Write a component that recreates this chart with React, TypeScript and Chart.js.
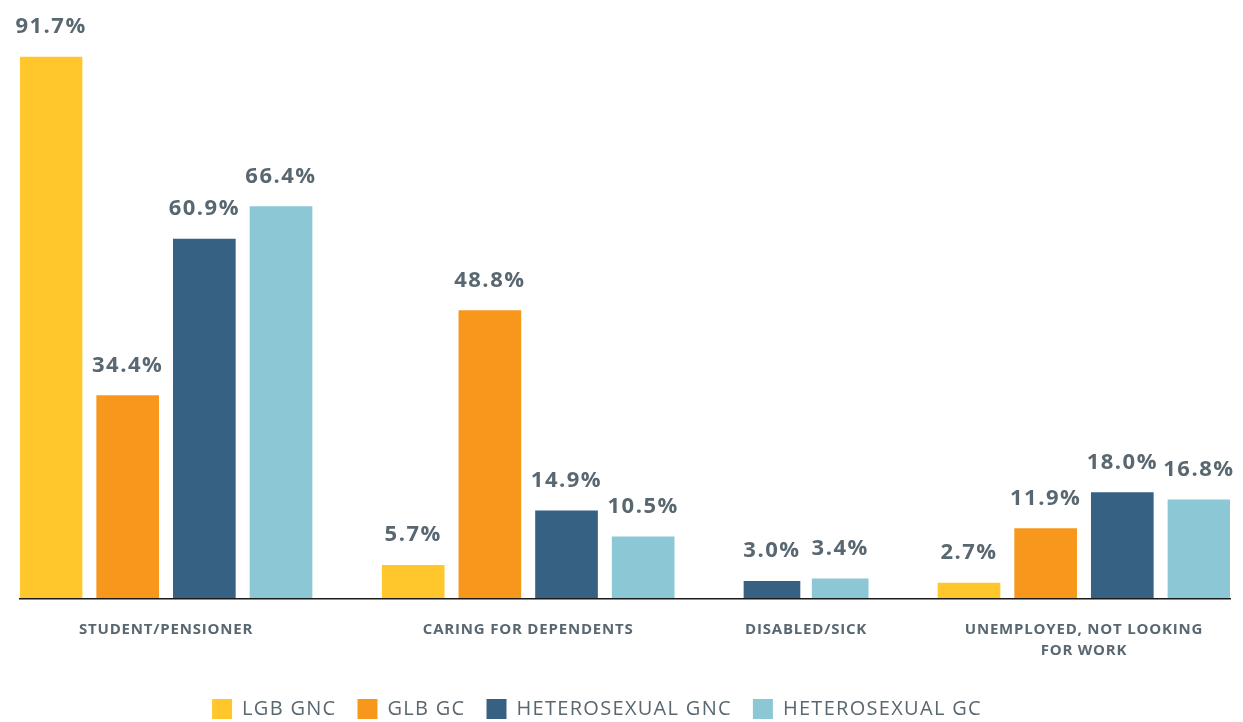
import React, { useEffect, useRef } from "react";
import { Chart, registerables } from "chart.js";

Chart.register(...registerables);

// ---------- data ----------
const categoryLabels: string[][] = [
  ["STUDENT/PENSIONER"],
  ["CARING FOR DEPENDENTS"],
  ["DISABLED/SICK"],
  ["UNEMPLOYED, NOT LOOKING", "FOR WORK"],
];
const seriesNames = ["LGB GNC", "GLB GC", "HETEROSEXUAL GNC", "HETEROSEXUAL GC"];
const lgbGnc: (number | null)[] = [91.7, 5.7, null, 2.7];
const glbGc: (number | null)[] = [34.4, 48.8, null, 11.9];
const heteroGnc: (number | null)[] = [60.9, 14.9, 3.0, 18.0];
const heteroGc: (number | null)[] = [66.4, 10.5, 3.4, 16.8];
const seriesValues = [lgbGnc, glbGc, heteroGnc, heteroGc];

// ---------- styles / layout ----------
const seriesColors = ["#FFC72C", "#F7981D", "#376183", "#8BC7D4"];
const textColor = "#596771";
const groupPitch = [1, 1, 0.89, 1];
const groupBarPx = [62, 62, 56, 62];
const barFrac = 0.81;
const groupGap = 0.915;
const FONT = "'Open Sans', 'Noto Sans', sans-serif";
const LEGEND_SPACING = "1.3px";
const VALUE_SPACING = "1.5px";
const TICK_SPACING = "0.8px";

function buildLayout() {
  const centers: (number | null)[][] = seriesValues.map(() => []);
  const groupCenters: number[] = [];
  let cursor = 0;
  let end = 0;
  for (let g = 0; g < categoryLabels.length; g++) {
    const p = groupPitch[g];
    const half = (barFrac * p) / 2;
    let first: number | null = null;
    let last = cursor;
    let k = 0;
    for (let s = 0; s < seriesValues.length; s++) {
      const v = seriesValues[s][g];
      if (v == null) {
        centers[s][g] = null;
        continue;
      }
      const x = cursor + half + k * p;
      centers[s][g] = x;
      k++;
      if (first === null) first = x;
      last = x;
    }
    groupCenters.push(((first as number) + last) / 2);
    end = last + half;
    cursor = end + groupGap;
  }
  return { centers, groupCenters, end };
}

const setSpacing = (chart: any) => {
  if (chart.ctx) (chart.ctx as any).letterSpacing = LEGEND_SPACING;
};

const letterSpacingPlugin = {
  id: "letterSpacing",
  beforeUpdate: setSpacing,
  beforeLayout: setSpacing,
  beforeDraw: setSpacing,
};

// value labels above bars; afterwards switch spacing for the tick layer (drawn after datasets, z=1)
const valueLabels = {
  id: "valueLabels",
  afterDatasetsDraw(chart: any) {
    const ctx = chart.ctx;
    ctx.save();
    ctx.letterSpacing = VALUE_SPACING;
    ctx.font = `bold 22px ${FONT}`;
    ctx.fillStyle = textColor;
    ctx.textAlign = "center";
    ctx.textBaseline = "alphabetic";
    chart.data.datasets.forEach((ds: any, i: number) => {
      const meta = chart.getDatasetMeta(i);
      meta.data.forEach((el: any, j: number) => {
        const v = ds.data[j].y as number;
        ctx.fillText(v.toFixed(1) + "%", el.x, el.y - 24);
      });
    });
    ctx.restore();
    ctx.letterSpacing = TICK_SPACING;
  },
};

const legendShift = {
  id: "legendShift",
  afterLayout(chart: any) {
    const l = chart.legend;
    if (!l) return;
    l.left -= 28;
    l.right -= 28;
    l.top += 7;
    l.bottom += 7;
  },
};

export default function App() {
  const canvasRef = useRef<HTMLCanvasElement | null>(null);

  useEffect(() => {
    const { centers, groupCenters, end } = buildLayout();
    const datasets: any[] = [];
    seriesValues.forEach((vals, s) => {
      const byThk = new Map<number, { x: number; y: number }[]>();
      vals.forEach((v, g) => {
        if (v == null) return;
        const t = groupBarPx[g];
        if (!byThk.has(t)) byThk.set(t, []);
        byThk.get(t)!.push({ x: centers[s][g] as number, y: v });
      });
      let first = true;
      byThk.forEach((pts, t) => {
        datasets.push({
          label: seriesNames[s],
          data: pts,
          backgroundColor: seriesColors[s],
          borderWidth: 0,
          barThickness: t,
          grouped: false,
          inLegend: first,
        });
        first = false;
      });
    });

    const chart = new Chart(canvasRef.current as HTMLCanvasElement, {
      type: "bar",
      data: { datasets },
      options: {
        animation: false,
        responsive: true,
        maintainAspectRatio: false,
        layout: { padding: { left: 20, right: 13, top: 8, bottom: 0 } },
        plugins: {
          legend: {
            position: "bottom",
            labels: {
              boxWidth: 20,
              boxHeight: 20,
              padding: 21,
              color: textColor,
              font: { family: FONT, size: 20, weight: "normal" },
              filter: (item: any, data: any) => !!data.datasets[item.datasetIndex].inLegend,
            },
          },
          tooltip: { enabled: false },
        },
        scales: {
          x: {
            type: "linear",
            offset: false,
            min: 0,
            max: end,
            grid: { display: false, drawTicks: false, offset: false },
            border: { display: true, color: "#1a1a1a", width: 1.5, z: 1 },
            afterBuildTicks: (scale: any) => {
              scale.ticks = groupCenters.map((v) => ({ value: v }));
            },
            afterFit: (scale: any) => {
              scale.height = 72;
            },
            ticks: {
              z: 1,
              autoSkip: false,
              maxRotation: 0,
              minRotation: 0,
              padding: 21,
              color: textColor,
              font: { family: FONT, size: 15, weight: "bold", lineHeight: 1.36 },
              callback: (_v: any, index: number) => categoryLabels[index],
            },
          },
          y: { display: false, min: 0, max: 100 },
        },
      } as any,
      plugins: [letterSpacingPlugin, valueLabels, legendShift],
    });
    return () => chart.destroy();
  }, []);

  return (
    <div style={{ position: "fixed", left: 0, top: 0, width: 1243, height: 722, background: "#fff" }}>
      <canvas ref={canvasRef} />
    </div>
  );
}
